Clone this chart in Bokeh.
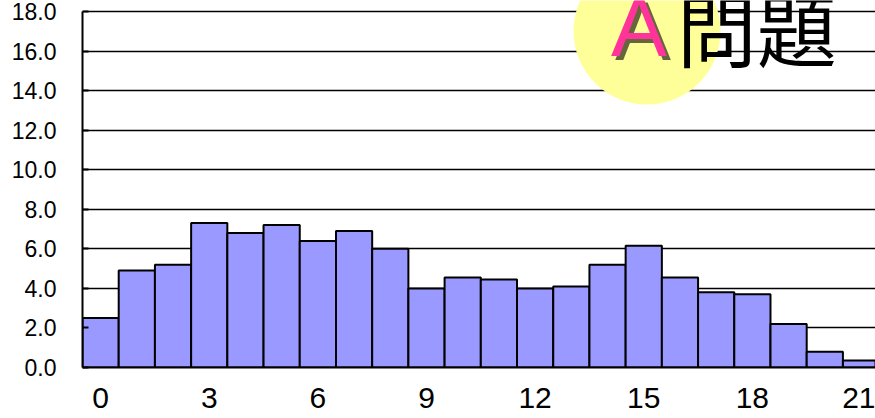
from bokeh.plotting import figure
from bokeh.models import Range1d, FixedTicker, NumeralTickFormatter
from bokeh.core.properties import value
from bokeh.embed import file_html
from bokeh.resources import INLINE

# Data: histogram bins 0..21 and their values
bins = list(range(22))
counts = [2.5, 4.9, 5.2, 7.3, 6.8, 7.2, 6.4, 6.9, 6.0, 4.0, 4.55, 4.45,
          4.0, 4.1, 5.2, 6.15, 4.55, 3.8, 3.7, 2.2, 0.8, 0.35]
y_ticks = [0, 2, 4, 6, 8, 10, 12, 14, 16, 18]
x_ticks = [0, 3, 6, 9, 12, 15, 18, 21]
title_a = "A"
title_rest = "問題"

p = figure(width=875, height=418, output_backend="svg", toolbar_location=None,
           x_range=Range1d(-0.5, 21.4), y_range=Range1d(0, 18.556),
           min_border_left=82, min_border_right=0, min_border_top=0,
           min_border_bottom=51)
p.outline_line_color = None
p.background_fill_color = "white"

p.xgrid.grid_line_color = None
p.ygrid.grid_line_color = "black"
p.ygrid.grid_line_width = 1.7
p.ygrid.ticker = FixedTicker(ticks=y_ticks)

p.vbar(x=bins, top=counts, width=1.0, fill_color="#9999ff",
       line_color="black", line_width=2)

# decorative title badge
p.scatter(x=[15.09], y=[17.01], size=147, marker="circle",
          fill_color="#ffff99", line_color=None)
p.text(x=[14.87], y=[17.22], text=[title_a], x_offset=4, y_offset=4,
       text_font=value("Liberation Sans"), text_font_size="84px",
       text_color="black", text_alpha=0.6, text_baseline="alphabetic",
       text_align="center")
p.text(x=[14.87], y=[17.22], text=[title_a],
       text_font=value("Liberation Sans"), text_font_size="84px",
       text_color="#ff3399", text_baseline="alphabetic", text_align="center")
p.text(x=[15.91], y=[17.29], text=[title_rest],
       text_font=value("Noto Sans CJK JP"), text_font_size="80px",
       text_color="black", text_baseline="alphabetic", text_align="left")

ya = p.yaxis[0]
ya.ticker = FixedTicker(ticks=y_ticks)
ya.formatter = NumeralTickFormatter(format="0.0")
ya.bounds = (0, 18)
ya.axis_line_width = 2
ya.axis_line_color = "black"
ya.major_tick_in = 6
ya.major_tick_out = 0
ya.major_tick_line_width = 2
ya.minor_tick_line_color = None
ya.major_label_standoff = 26
ya.major_label_text_font = "Liberation Sans"
ya.major_label_text_font_size = "23px"
ya.major_label_text_color = "black"

xa = p.xaxis[0]
xa.ticker = FixedTicker(ticks=x_ticks)
xa.axis_line_width = 2
xa.axis_line_color = "black"
xa.major_tick_line_color = None
xa.minor_tick_line_color = None
xa.major_tick_in = 0
xa.major_tick_out = 0
xa.major_label_standoff = 20
xa.major_label_text_font = "Liberation Sans"
xa.major_label_text_font_size = "30px"
xa.major_label_text_color = "black"

open("out.html", "w").write(file_html(p, INLINE))
